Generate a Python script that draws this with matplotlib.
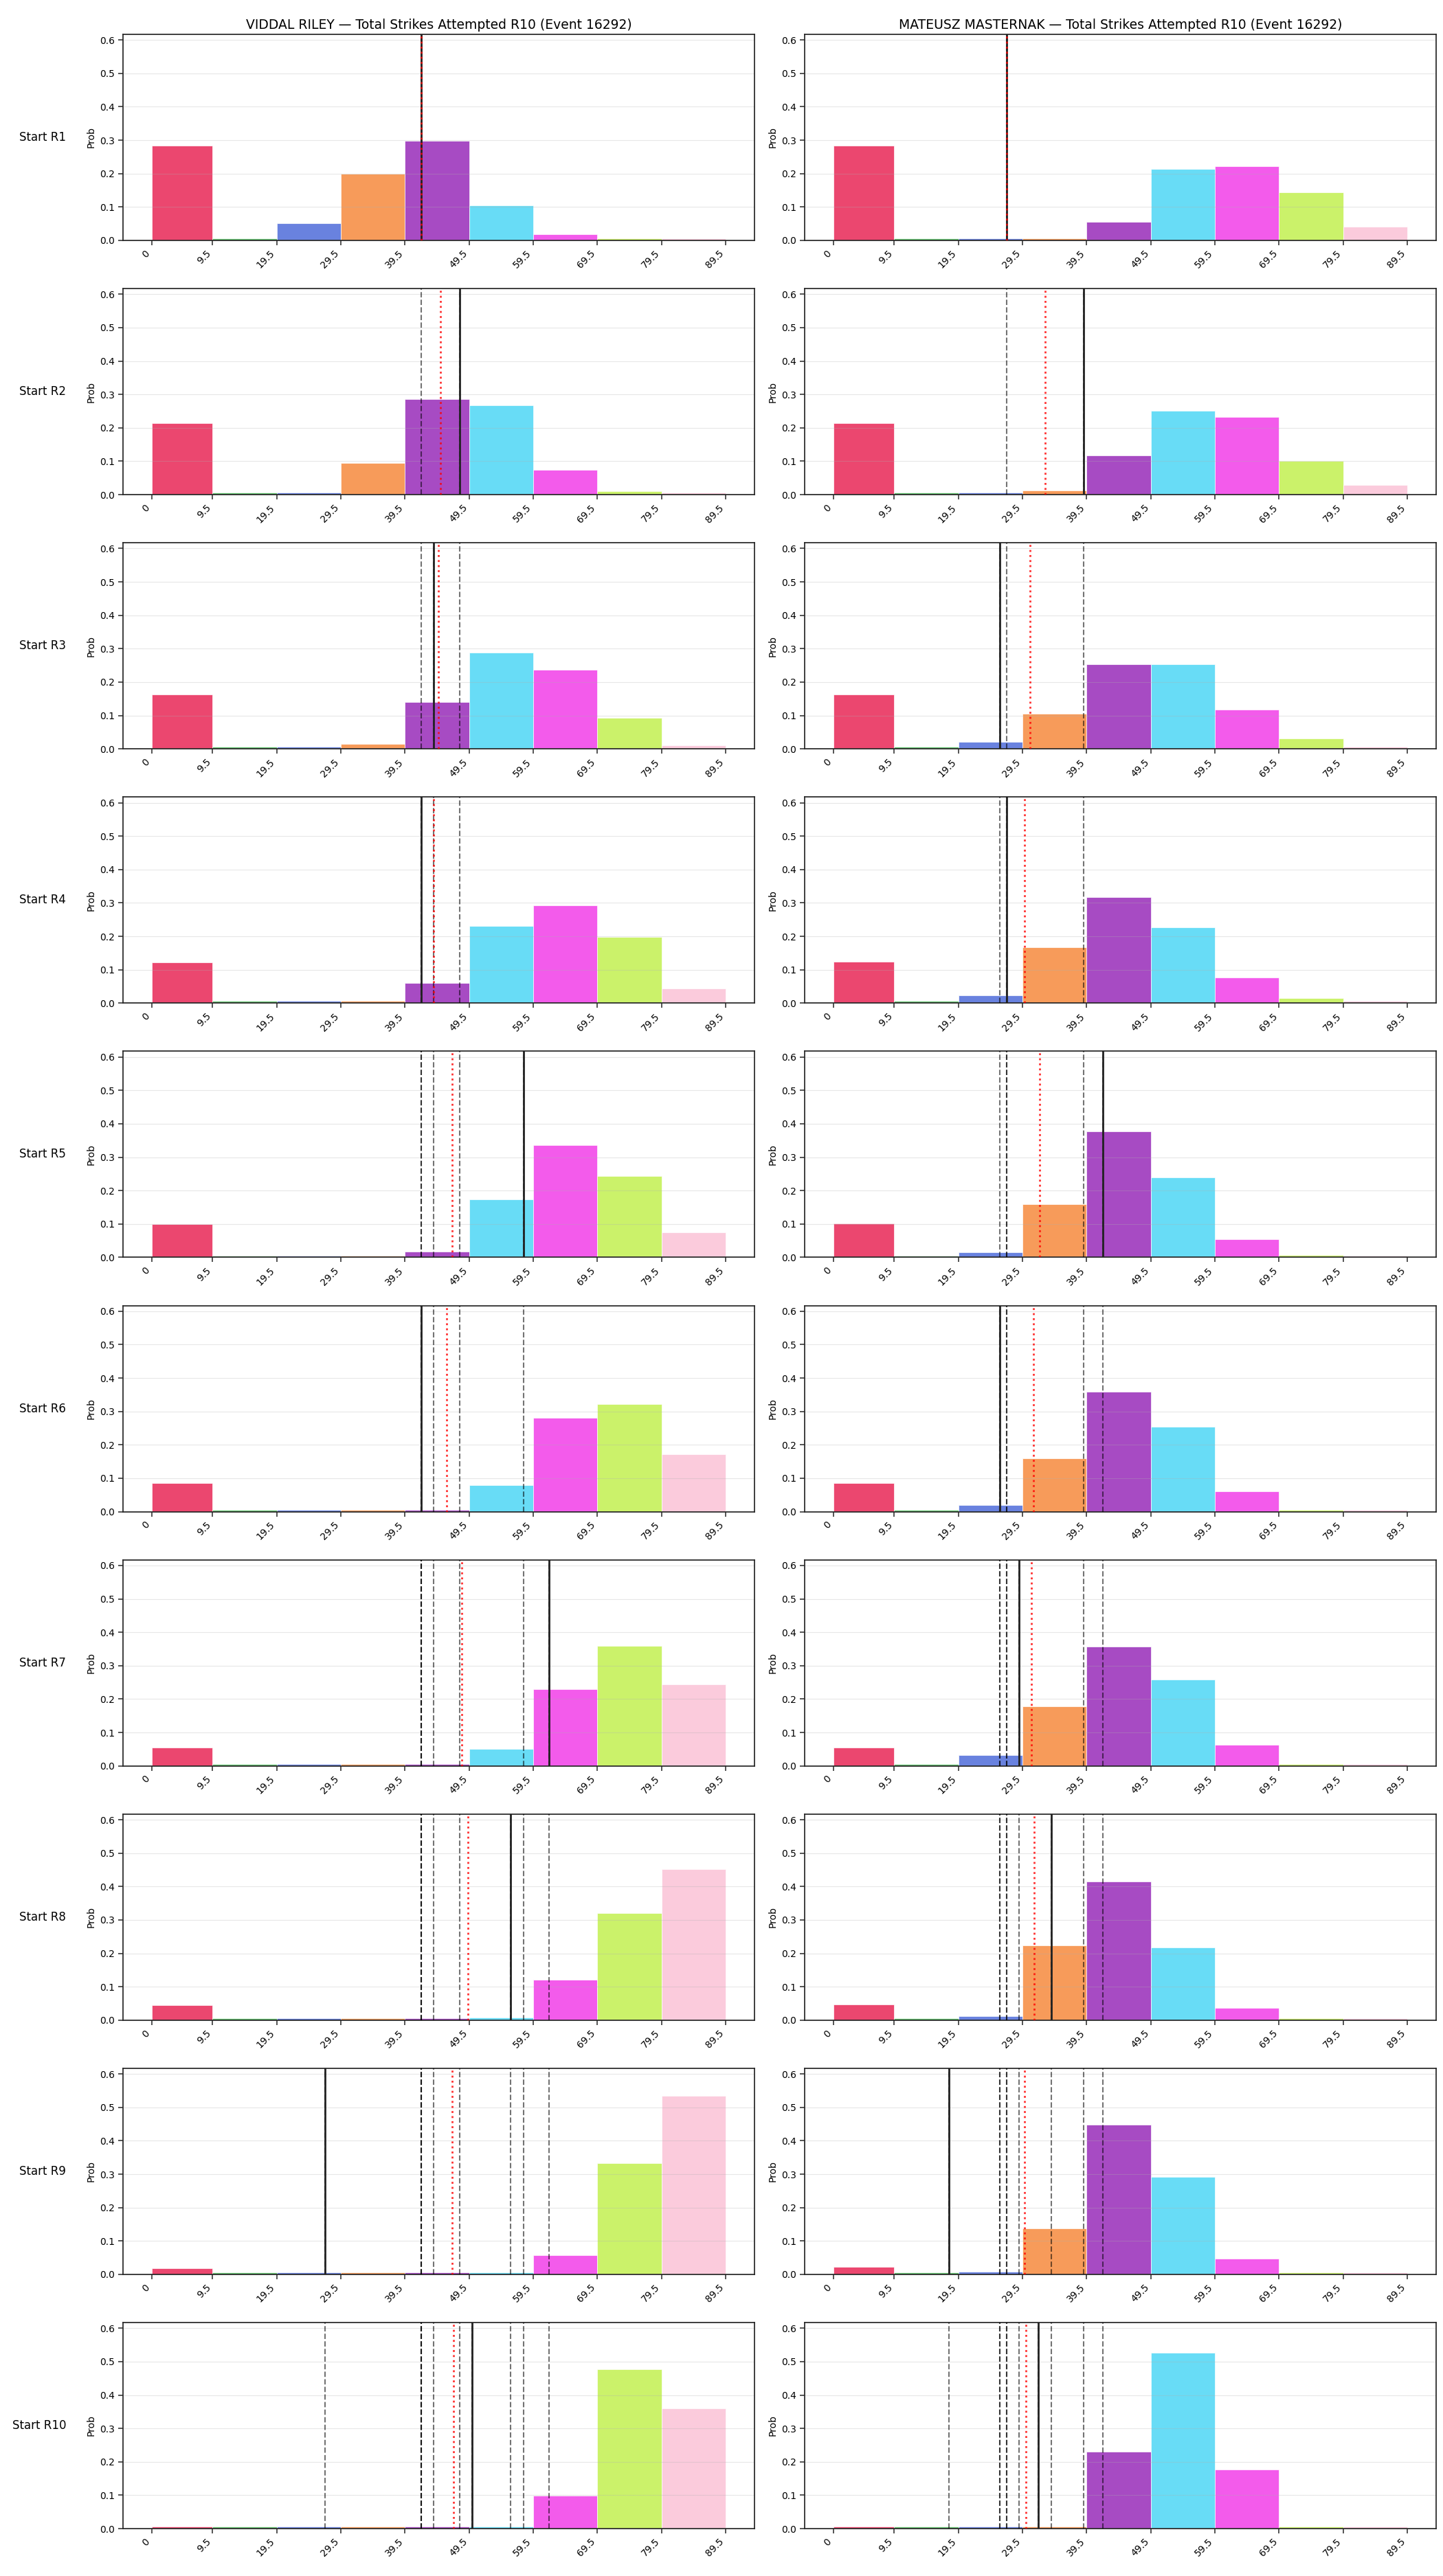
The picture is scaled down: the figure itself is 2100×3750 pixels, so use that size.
import matplotlib
matplotlib.use("Agg")
import matplotlib.pyplot as plt

# ---------------- data ----------------
bin_edges = [0, 9.5, 19.5, 29.5, 39.5, 49.5, 59.5, 69.5, 79.5, 89.5]
tick_labels = ["0", "9.5", "19.5", "29.5", "39.5", "49.5", "59.5", "69.5", "79.5", "89.5"]
bin_colors = ["#e6194b", "#3cb44b", "#4363d8", "#f58231", "#911eb4",
              "#42d4f4", "#f032e6", "#bfef45", "#fabed4"]
round_labels = ["Start R1", "Start R2", "Start R3", "Start R4", "Start R5",
                "Start R6", "Start R7", "Start R8", "Start R9", "Start R10"]

fighter_left = "VIDDAL RILEY"
fighter_right = "MATEUSZ MASTERNAK"
title_suffix = "Total Strikes Attempted R10 (Event 16292)"

# probabilities per bin, one list per starting round
riley_probs = [
    [0.283, 0.006, 0.052, 0.200, 0.298, 0.105, 0.019, 0.006, 0.006],
    [0.214, 0.006, 0.006, 0.095, 0.287, 0.267, 0.074, 0.010, 0.006],
    [0.163, 0.006, 0.006, 0.015, 0.140, 0.289, 0.236, 0.092, 0.010],
    [0.122, 0.006, 0.006, 0.006, 0.061, 0.230, 0.292, 0.198, 0.044],
    [0.099, 0.006, 0.006, 0.006, 0.017, 0.173, 0.337, 0.243, 0.074],
    [0.085, 0.006, 0.006, 0.006, 0.006, 0.080, 0.281, 0.321, 0.171],
    [0.054, 0.006, 0.006, 0.006, 0.006, 0.050, 0.229, 0.360, 0.245],
    [0.045, 0.006, 0.006, 0.006, 0.006, 0.008, 0.120, 0.321, 0.452],
    [0.019, 0.006, 0.006, 0.006, 0.006, 0.006, 0.058, 0.332, 0.534],
    [0.006, 0.006, 0.006, 0.006, 0.006, 0.006, 0.098, 0.477, 0.359],
]
masternak_probs = [
    [0.283, 0.006, 0.006, 0.006, 0.056, 0.213, 0.223, 0.143, 0.041],
    [0.214, 0.006, 0.006, 0.013, 0.117, 0.252, 0.233, 0.102, 0.028],
    [0.163, 0.006, 0.022, 0.106, 0.254, 0.254, 0.118, 0.031, 0.006],
    [0.124, 0.006, 0.023, 0.168, 0.318, 0.227, 0.076, 0.015, 0.006],
    [0.102, 0.006, 0.016, 0.159, 0.378, 0.239, 0.054, 0.008, 0.006],
    [0.085, 0.006, 0.020, 0.159, 0.360, 0.255, 0.061, 0.006, 0.006],
    [0.055, 0.006, 0.032, 0.179, 0.357, 0.258, 0.064, 0.006, 0.006],
    [0.046, 0.006, 0.012, 0.224, 0.416, 0.218, 0.036, 0.006, 0.006],
    [0.022, 0.006, 0.008, 0.137, 0.448, 0.291, 0.047, 0.006, 0.006],
    [0.006, 0.006, 0.006, 0.006, 0.231, 0.526, 0.177, 0.006, 0.006],
]

# current line (solid), history of lines (dashed), running average (red dotted)
riley_lines = [42, 48, 44, 42, 58, 42, 62, 56, 27, 50]
riley_avg = [42.0, 45.0, 44.7, 44.0, 46.8, 46.0, 48.3, 49.3, 46.8, 47.1]
masternak_lines = [27, 39, 26, 27, 42, 26, 29, 34, 18, 32]
masternak_avg = [27.0, 33.0, 30.7, 29.8, 32.2, 31.2, 30.9, 31.3, 29.8, 30.0]

y_ticks = [0.0, 0.1, 0.2, 0.3, 0.4, 0.5, 0.6]
y_max = 0.617

# ---------------- figure ----------------
fig, axes = plt.subplots(10, 2, figsize=(21, 37.5), dpi=100)
fig.subplots_adjust(left=0.0852, right=0.9952, top=0.98667, bottom=0.0184,
                    hspace=0.2337, wspace=0.0795)

lefts = bin_edges[:-1]
widths = [bin_edges[i + 1] - bin_edges[i] for i in range(len(bin_edges) - 1)]

columns = [
    (fighter_left, riley_probs, riley_lines, riley_avg),
    (fighter_right, masternak_probs, masternak_lines, masternak_avg),
]

for c, (name, probs, lines, avgs) in enumerate(columns):
    for r in range(10):
        ax = axes[r, c]
        ax.bar(lefts, probs[r], width=widths, align="edge", color=bin_colors,
               alpha=0.8, edgecolor="white", linewidth=0.6, zorder=1)
        for v in lines[: r + 1]:
            ax.axvline(v, color="black", ls="--", lw=1.5, alpha=0.55, zorder=3)
        ax.axvline(lines[r], color="#222222", ls="-", lw=2.0, zorder=4)
        ax.axvline(avgs[r], color="red", ls=":", lw=2.0, alpha=0.8, zorder=5)

        ax.set_xlim(-4.475, 93.975)
        ax.set_ylim(0, y_max)
        ax.set_xticks(bin_edges)
        ax.set_xticklabels(tick_labels, rotation=45, ha="right", fontsize=10)
        ax.set_yticks(y_ticks)
        ax.set_yticklabels([f"{t:.1f}" for t in y_ticks], fontsize=10)
        ax.set_ylabel("Prob", fontsize=10)
        ax.grid(axis="y", alpha=0.3)
        ax.grid(axis="x", visible=False)
        for sp in ax.spines.values():
            sp.set_linewidth(1.25)
            sp.set_color("#262626")
        ax.tick_params(length=5, width=1.1, color="#262626", labelcolor="black")

        if r == 0:
            ax.set_title(f"{name} \u2014 {title_suffix}", fontsize=13.5)
        if c == 0:
            ax.text(-0.09, 0.5, round_labels[r], transform=ax.transAxes,
                    ha="right", va="center", fontsize=12)

fig.savefig("out.png", dpi=100)
